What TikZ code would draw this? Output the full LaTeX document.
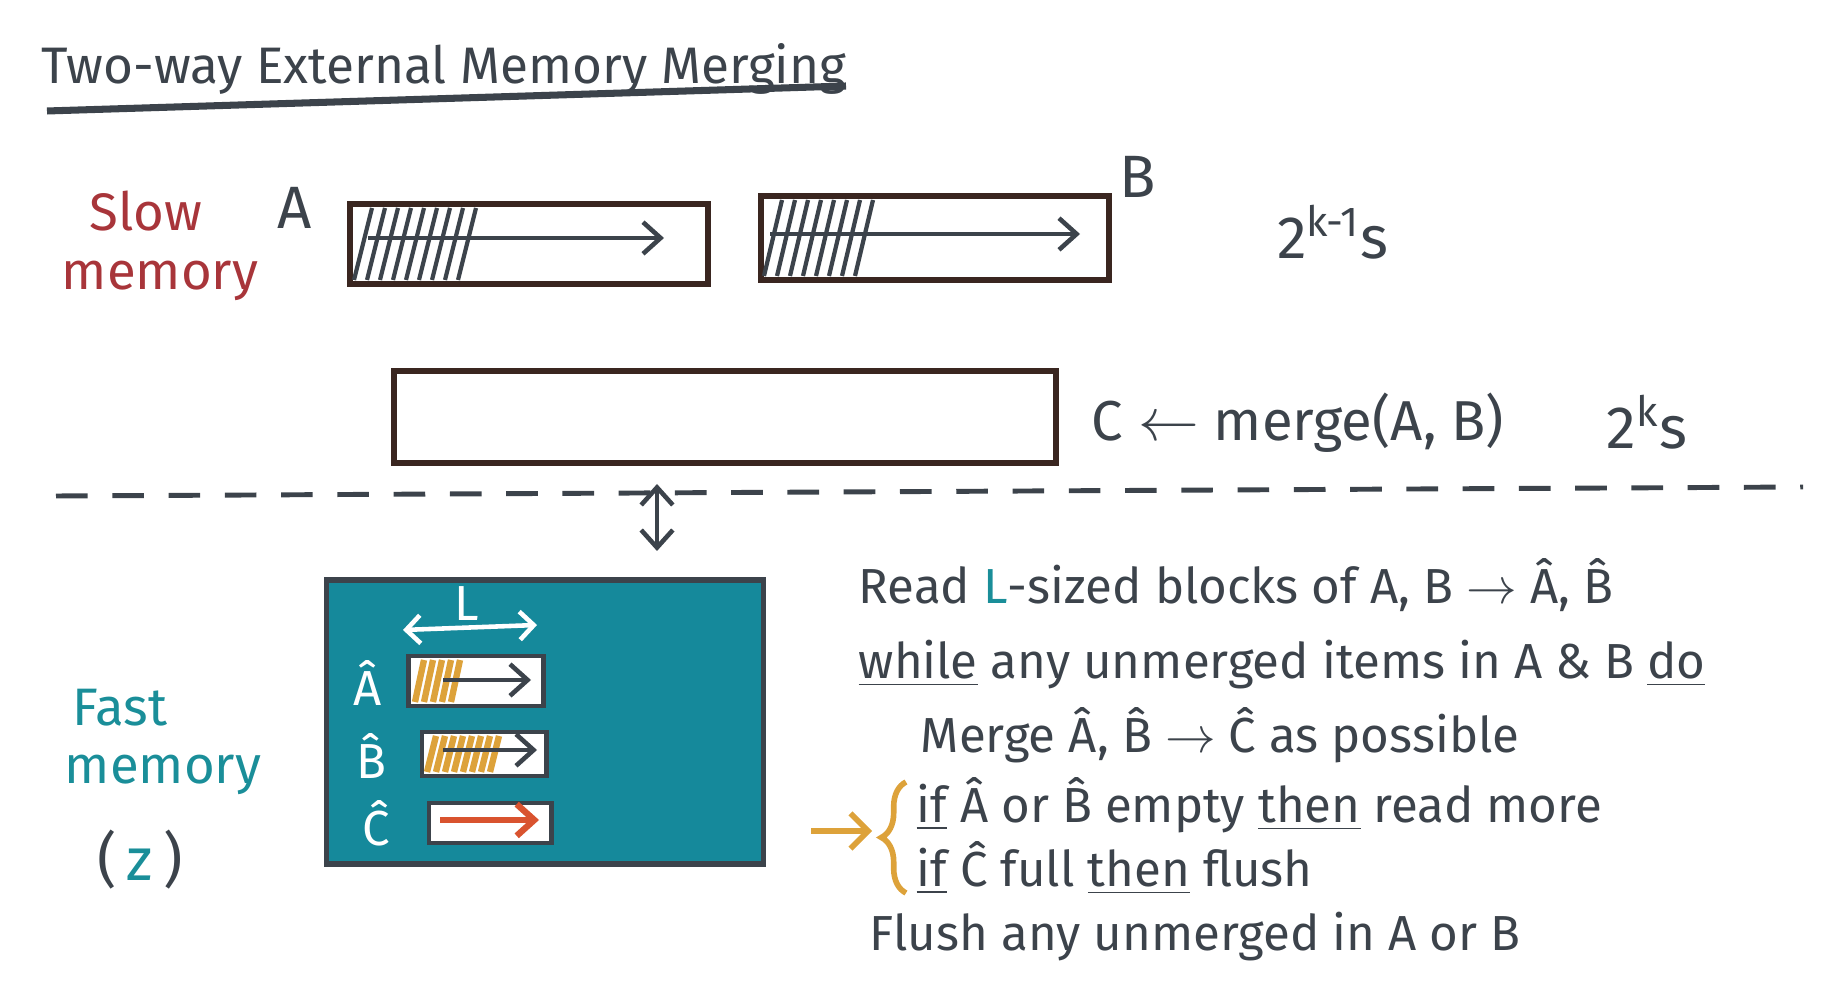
\documentclass[tikz,border=0pt]{standalone}
\usepackage{fontspec}
\setmainfont{Fira Sans}
\usetikzlibrary{arrows.meta, positioning, calc, decorations.pathreplacing}

\definecolor{ink}{HTML}{3C434B}
\definecolor{boxbrown}{HTML}{3A2620}
\definecolor{slowred}{HTML}{A8353A}
\definecolor{fastteal}{HTML}{15899B}
\definecolor{tealtext}{HTML}{1A8E99}
\definecolor{hatchorange}{HTML}{DDA23A}
\definecolor{arrowred}{HTML}{D9532F}

\begin{document}
\begin{tikzpicture}[x=0.01cm, y=-0.01cm,
  every node/.style={text=ink},
  slowbox/.style={draw=boxbrown, line width=1.6pt, fill=white, inner sep=0pt},
  fastbox/.style={draw=ink, line width=1.6pt, fill=fastteal, inner sep=0pt},
  bufbox/.style={draw=ink, line width=1.4pt, fill=white, inner sep=0pt},
  hatch/.style={draw=ink, line width=1.2pt},
  ohatch/.style={draw=hatchorange, line width=1.8pt},
  arrow/.style={-{Straight Barb[length=5pt,width=9pt]}, line width=1.3pt, ink},
  big/.style={font=\fontsize{17}{20}\selectfont},
  side/.style={font=\fontsize{15}{18}\selectfont},
  code/.style={anchor=base west, inner sep=0pt, font=\fontsize{14}{16}\selectfont},
  wlabel/.style={text=white, font=\fontsize{14}{16}\selectfont}
]
\useasboundingbox (0,0) rectangle (1830,1004);

% title
\node[anchor=base west, inner sep=0pt, font=\fontsize{14.6}{18}\selectfont] (title) at (41,84) {Two-way External Memory Merging};
\coordinate (ulStart) at (47,111);
\coordinate (ulEnd) at (846,86);
\draw[line width=2pt, ink] (ulStart) -- (ulEnd);

% slow memory
\node[side, text=slowred, anchor=base] (slow) at (146,231) {Slow};
\node[side, text=slowred, anchor=base] (slowmem) at (160,290) {memory};

\node[big] (labA) at (295,208) {A};
\node[big] (labB) at (1138,177) {B};

\node[slowbox, minimum width=3.58cm, minimum height=0.80cm] (boxA) at (529,244) {};
\node[slowbox, minimum width=3.48cm, minimum height=0.84cm] (boxB) at (935,238) {};
\node[slowbox, minimum width=6.62cm, minimum height=0.92cm] (boxC) at (725,417) {};

\foreach \x in {354,367,...,460}
  \draw[hatch] (\x,280) -- (\x+18,208);
\foreach \x in {764,777,...,860}
  \draw[hatch] (\x,276) -- (\x+18,200);

\coordinate (aStart) at (368,238);
\coordinate (aEnd) at (664,238);
\coordinate (bStart) at (770,234);
\coordinate (bEnd) at (1080,234);
\draw[arrow] (aStart) -- (aEnd);
\draw[arrow] (bStart) -- (bEnd);

\node[big] (halfsize) at (1333,232) {2\textsuperscript{k-1}s};
\node[side, anchor=base west, inner sep=0pt, font=\fontsize{16}{18}\selectfont] (mergeC) at (1091,441) {C $\leftarrow$ merge(A, B)};
\node[big] (fullsize) at (1647,422) {2\textsuperscript{k}s};

% divider
\coordinate (divL) at (56,496);
\coordinate (divR) at (1803,487);
\draw[ink, line width=1.4pt, dash pattern=on 9pt off 7pt] (divL) -- (divR);

\coordinate (ioTop) at (657,484);
\coordinate (ioBot) at (657,551);
\draw[{Straight Barb[length=5pt,width=9pt]}-{Straight Barb[length=5pt,width=9pt]}, line width=1.3pt, ink] (ioTop) -- (ioBot);

% fast memory
\node[side, text=tealtext, anchor=base] (fast) at (120,726) {Fast};
\node[side, text=tealtext, anchor=base] (fastmem) at (163,784) {memory};
\node[big, anchor=base] (zsize) at (140,881) {(\,\textcolor{tealtext}{z}\,)};

\node[fastbox, minimum width=4.37cm, minimum height=2.84cm] (fastBox) at (545,722) {};

\node[wlabel] (labL) at (467,604) {L};
\coordinate (lLeft) at (403,630);
\coordinate (lRight) at (537,625);
\draw[{Straight Barb[length=4pt,width=8pt]}-{Straight Barb[length=4pt,width=8pt]}, line width=1.3pt, white] (lLeft) -- (lRight);

\node[bufbox, minimum width=1.35cm, minimum height=0.50cm] (bufA) at (476,681) {};
\node[bufbox, minimum width=1.24cm, minimum height=0.44cm] (bufB) at (484,754) {};
\node[bufbox, minimum width=1.22cm, minimum height=0.40cm] (bufC) at (490,823) {};

\node[wlabel] (hatA) at (368,683) {\^{A}};
\node[wlabel] (hatB) at (371,756) {\^{B}};
\node[wlabel] (hatC) at (376,823) {\^{C}};

\foreach \x in {415,424,...,452}
  \draw[ohatch] (\x,702) -- (\x+9,660);
\foreach \x in {427,436,...,492}
  \draw[ohatch] (\x,772) -- (\x+9,736);

\coordinate (bufAs) at (443,680);
\coordinate (bufAe) at (531,680);
\coordinate (bufBs) at (443,750);
\coordinate (bufBe) at (537,750);
\coordinate (bufCs) at (440,820);
\coordinate (bufCe) at (539,820);
\draw[arrow] (bufAs) -- (bufAe);
\draw[arrow] (bufBs) -- (bufBe);
\draw[arrow, arrowred, line width=1.8pt] (bufCs) -- (bufCe);

% algorithm
\node[code] (line1) at (858,604) {Read \textcolor{tealtext}{L}-sized blocks of A, B $\rightarrow$ \^{A}, \^{B}};
\node[code] (line2) at (858,679) {\underline{while} any unmerged items in A \& B \underline{do}};
\node[code] (line3) at (920,753) {Merge \^{A}, \^{B} $\rightarrow$ \^{C} as possible};
\node[code] (line4) at (916,823) {\underline{if} \^{A} or \^{B} empty \underline{then} read more};
\node[code] (line5) at (916,887) {\underline{if} \^{C} full \underline{then} flush};
\node[code] (line6) at (869,951) {Flush any unmerged in A or B};

\coordinate (braceTop) at (906,782);
\coordinate (braceBot) at (906,893);
\draw[hatchorange, line width=1.6pt, decorate, decoration={brace, amplitude=7pt}] (braceBot) -- (braceTop);
\coordinate (hintStart) at (811,831);
\coordinate (hintEnd) at (872,831);
\draw[-{Straight Barb[length=5pt,width=10pt]}, line width=1.6pt, hatchorange] (hintStart) -- (hintEnd);
\end{tikzpicture}
\end{document}
